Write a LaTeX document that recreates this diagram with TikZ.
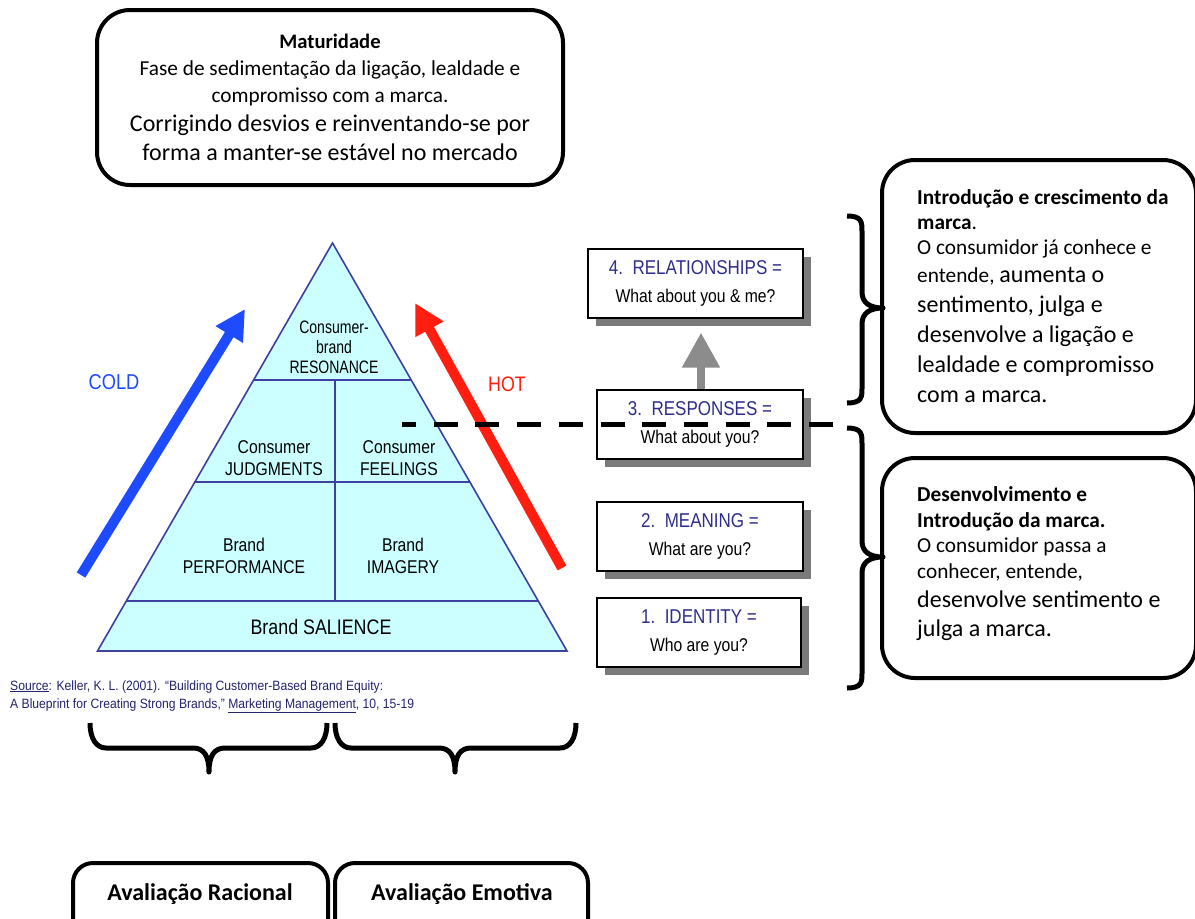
\documentclass[tikz,border=0pt]{standalone}
\usepackage{fontspec}
\setmainfont{Carlito}
\newfontfamily\helvfont[FakeStretch=0.85]{Liberation Sans}
\newfontfamily\helvtight[FakeStretch=0.78]{Liberation Sans}
\newfontfamily\helvsrc[FakeStretch=0.9]{Liberation Sans}
\usetikzlibrary{arrows.meta,shadows}
\pgfdeclarelayer{back}
\pgfsetlayers{back,main}

\definecolor{pyrfill}{HTML}{CCFFFF}
\definecolor{pyrline}{HTML}{3F3F9F}
\definecolor{coldblue}{HTML}{1E4BFF}
\definecolor{hotred}{HTML}{FF1E0F}
\definecolor{stepnavy}{HTML}{2E2E8C}
\definecolor{shadowgray}{HTML}{7A7A7A}
\definecolor{linkgray}{HTML}{8C8C8C}
\definecolor{srcnavy}{HTML}{23236E}

\newcommand{\smalltxt}{\fontsize{21.3}{26}\selectfont}
\newcommand{\bigtxt}{\fontsize{24}{29}\selectfont}

\tikzset{
  roundbox/.style={draw=black, line width=4pt, rounded corners=33pt, inner sep=0pt},
  evalbox/.style={draw=black, line width=4pt, rounded corners=20pt, inner sep=0pt},
  lineL/.style={anchor=base west, inner sep=0pt},
  lineC/.style={anchor=base, inner sep=0pt},
  stepbox/.style={draw=black, line width=1.2pt, fill=white, inner sep=2pt, align=center,
    drop shadow={shadow xshift=8pt, shadow yshift=-8pt, fill=shadowgray, opacity=1}},
  pyrtext/.style={align=center, inner sep=0pt, text=black},
  bigarrow/.style={line width=10pt, -{Triangle[length=30pt,width=30pt]}},
  bracestyle/.style={draw=black, line width=5pt, line join=round},
  steplink/.style={draw=linkgray, line width=8pt},
  steplabel/.style={font=\helvfont\fontsize{20}{22}\selectfont},
}

\begin{document}
\begin{tikzpicture}[x=1pt, y=-1pt]
\useasboundingbox (0,0) rectangle (1195,919);
\fill[white] (0,0) rectangle (1195,919);
\clip (0,0) rectangle (1195,919);

% ---- Maturity box ----
\node[roundbox, minimum width=466pt, minimum height=175pt] (matBox) at (330,97.5) {};
\node[lineC, font=\fontsize{20.6}{25}\selectfont\bfseries] (matTitle) at (330,48) {Maturidade};
\node[lineC, font=\smalltxt] (matL1) at (330,75) {Fase de sedimentação da ligação, lealdade e};
\node[lineC, font=\smalltxt] (matL2) at (330,102) {compromisso com a marca.};
\node[lineC, font=\bigtxt] (matL3) at (330,131) {Corrigindo desvios e reinventando-se por};
\node[lineC, font=\bigtxt] (matL4) at (330,160) {forma a manter-se estável no mercado};

% ---- Brand resonance pyramid ----
\coordinate (apex) at (332.5,243);
\coordinate (baseL) at (97.5,651);
\coordinate (baseR) at (567,651);
\fill[pyrfill] (apex) -- (baseL) -- (baseR) -- cycle;
\draw[pyrline, line width=1.6pt] (apex) -- (baseL) -- (baseR) -- cycle;
\draw[pyrline, line width=1.6pt]
  (253.6,380) -- (411.4,380)
  (194.8,482) -- (470.2,482)
  (126.3,601) -- (538.7,601)
  (335,380) -- (335,601);

\node[pyrtext, font=\helvtight\fontsize{18}{20}\selectfont] (resonance) at (334,347) {Consumer-\\brand\\RESONANCE};
\node[pyrtext, font=\helvfont\fontsize{18.5}{22}\selectfont] (judgments) at (274,458) {Consumer\\JUDGMENTS};
\node[pyrtext, font=\helvfont\fontsize{18.5}{22}\selectfont] (feelings) at (399,458) {Consumer\\FEELINGS};
\node[pyrtext, font=\helvfont\fontsize{18.5}{22}\selectfont] (performance) at (244,556) {Brand\\PERFORMANCE};
\node[pyrtext, font=\helvfont\fontsize{18.5}{22}\selectfont] (imagery) at (403,556) {Brand\\IMAGERY};
\node[pyrtext, font=\helvfont\fontsize{21}{24}\selectfont] (salience) at (321,627) {Brand SALIENCE};

% ---- Cold / hot arrows ----
\coordinate (coldTail) at (81,575);
\coordinate (coldTip) at (245,309);
\coordinate (hotTail) at (562,568);
\coordinate (hotTip) at (415,303);
\draw[bigarrow, coldblue] (coldTail) -- (coldTip);
\draw[bigarrow, hotred] (hotTail) -- (hotTip);
\node[inner sep=0pt, text=coldblue, font=\helvfont\fontsize{21.5}{24}\selectfont] (cold) at (114,382) {COLD};
\node[inner sep=0pt, text=hotred, font=\helvfont\fontsize{21}{24}\selectfont] (hot) at (507,384) {HOT};

% ---- Source line ----
\node[lineL, text=srcnavy, font=\helvsrc\fontsize{13.5}{15}\selectfont] (src1) at (10,690)
  {\underline{Source}: Keller, K. L. (2001). “Building Customer-Based Brand Equity:};
\node[lineL, text=srcnavy, font=\helvsrc\fontsize{13.5}{15}\selectfont] (src2) at (10,708)
  {A Blueprint for Creating Strong Brands,” \underline{Marketing Management}, 10, 15-19};

% ---- Brand building steps ----
\node[stepbox, minimum width=215pt, minimum height=69pt] (rel) at (695.5,283.5)
  {{\helvfont\fontsize{20}{22}\selectfont\color{stepnavy}4.\ \ RELATIONSHIPS =}\\[13pt]
   {\helvfont\fontsize{18.5}{22}\selectfont What about you \& me?}};
\node[stepbox, minimum width=206pt, minimum height=69pt] (resp) at (700,424.5)
  {{\helvfont\fontsize{20}{22}\selectfont\color{stepnavy}3.\ \ RESPONSES =}\\[13pt]
   {\helvfont\fontsize{18.5}{22}\selectfont What about you?}};
\node[stepbox, minimum width=206pt, minimum height=69pt] (mean) at (700,536.5)
  {{\helvfont\fontsize{20}{22}\selectfont\color{stepnavy}2.\ \ MEANING =}\\[13pt]
   {\helvfont\fontsize{18.5}{22}\selectfont What are you?}};
\node[stepbox, minimum width=204pt, minimum height=69pt] (ident) at (699,632.5)
  {{\helvfont\fontsize{20}{22}\selectfont\color{stepnavy}1.\ \ IDENTITY =}\\[13pt]
   {\helvfont\fontsize{18.5}{22}\selectfont Who are you?}};

\coordinate (linkX) at (701,0);
\begin{pgfonlayer}{back}
  \draw[steplink] (ident.north -| linkX) -- (mean.south -| linkX);
  \draw[steplink] (mean.north -| linkX) -- (resp.south -| linkX);
\end{pgfonlayer}
\draw[steplink, -{Triangle[length=35pt,width=36pt]}, shorten >=14pt]
  (resp.north -| linkX) -- (rel.south -| linkX);

% ---- Dashed divider ----
\coordinate (dashStart) at (402,424);
\coordinate (dashEnd) at (837,424);
\draw[line width=5pt, dash pattern=on 24pt off 17.7pt, dash phase=10pt] (dashStart) -- (dashEnd);

% ---- Right-hand braces ----
\draw[bracestyle] (847,216) .. controls (862,216) and (862,222) .. (862,232) -- (862,292)
  .. controls (862,303) and (870,308) .. (883,308)
  .. controls (870,308) and (862,313) .. (862,324) -- (862,388)
  .. controls (862,397) and (862,403) .. (847,403);
\draw[bracestyle] (847,428) .. controls (862,428) and (862,434) .. (862,444) -- (862,541)
  .. controls (862,552) and (870,557) .. (883,557)
  .. controls (870,557) and (862,562) .. (862,573) -- (862,673)
  .. controls (862,682) and (862,688) .. (847,688);

% ---- Right-hand description boxes ----
\node[roundbox, minimum width=314pt, minimum height=273pt] (growBox) at (1039,296.5) {};
\node[lineL, font=\smalltxt\bfseries] (grow1) at (917,204) {Introdução e crescimento da};
\node[lineL, font=\smalltxt] (grow2) at (917,229) {\textbf{marca}.};
\node[lineL, font=\smalltxt] (grow3) at (917,254) {O consumidor já conhece e};
\node[lineL, font=\smalltxt] (grow4) at (917,282) {entende, {\bigtxt aumenta o}};
\node[lineL, font=\bigtxt] (grow5) at (917,312) {sentimento, julga e};
\node[lineL, font=\bigtxt] (grow6) at (917,342) {desenvolve a ligação e};
\node[lineL, font=\bigtxt] (grow7) at (917,372) {lealdade e compromisso};
\node[lineL, font=\bigtxt] (grow8) at (917,402) {com a marca.};

\node[roundbox, minimum width=314pt, minimum height=220pt] (devBox) at (1039,568) {};
\node[lineL, font=\smalltxt\bfseries] (dev1) at (917,501) {Desenvolvimento e};
\node[lineL, font=\smalltxt\bfseries] (dev2) at (917,527) {Introdução da marca.};
\node[lineL, font=\smalltxt] (dev3) at (917,552) {O consumidor passa a};
\node[lineL, font=\smalltxt] (dev4) at (917,578) {conhecer, entende,};
\node[lineL, font=\bigtxt] (dev5) at (917,607) {desenvolve sentimento e};
\node[lineL, font=\bigtxt] (dev6) at (917,636) {julga a marca.};

% ---- Bottom braces ----
\draw[bracestyle] (90,723) .. controls (90,738) and (96,748) .. (106,748) -- (193,748)
  .. controls (204,748) and (209,756) .. (209,772)
  .. controls (209,756) and (214,748) .. (225,748) -- (311,748)
  .. controls (321,748) and (327,738) .. (327,723);
\draw[bracestyle] (335,723) .. controls (335,738) and (341,748) .. (351,748) -- (439,748)
  .. controls (450,748) and (455,756) .. (455,772)
  .. controls (455,756) and (460,748) .. (471,748) -- (560,748)
  .. controls (570,748) and (576,738) .. (576,723);

% ---- Evaluation boxes ----
\node[evalbox, minimum width=255pt, minimum height=80pt] (rational) at (200.5,903) {};
\node[evalbox, minimum width=253pt, minimum height=80pt] (emotive) at (461.5,903) {};
\node[lineC, font=\bigtxt\bfseries] (rationalText) at (200,900) {Avaliação Racional};
\node[lineC, font=\bigtxt\bfseries] (emotiveText) at (462,900) {Avaliação Emotiva};
\end{tikzpicture}
\end{document}
